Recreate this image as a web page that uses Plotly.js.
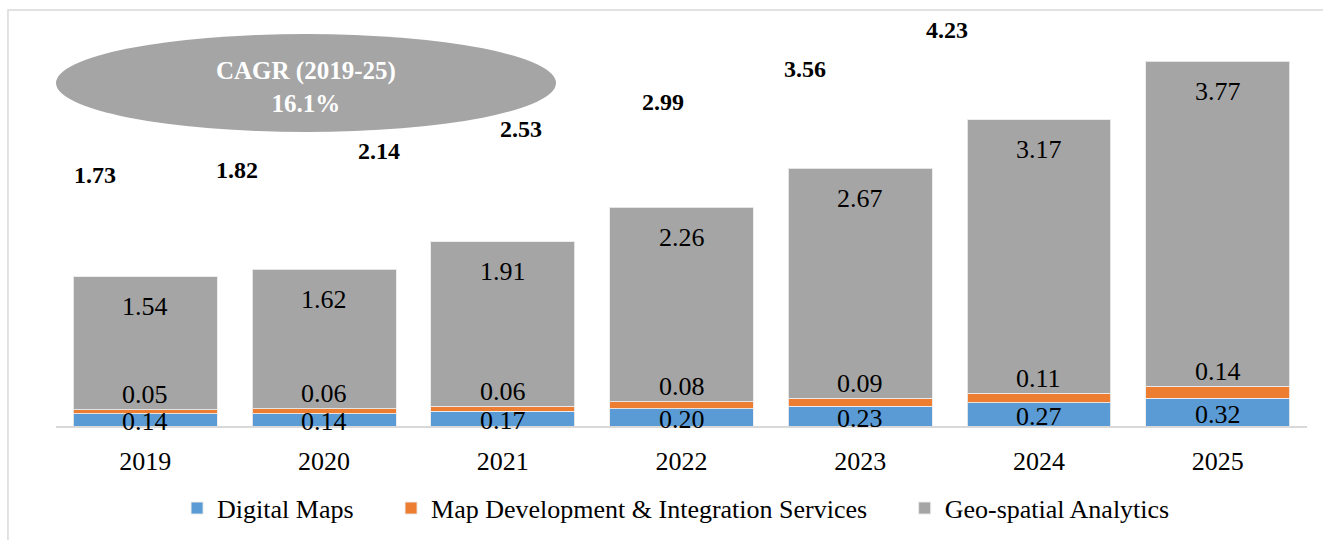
<!DOCTYPE html>
<html>
<head>
<meta charset="utf-8">
<script src="https://cdn.plot.ly/plotly-3.0.1.min.js"></script>
<style>html,body{margin:0;padding:0;background:#fff;}#chart{width:1323px;height:540px;}</style>
</head>
<body>
<div id="chart"></div>
<script>
const years = ["2019","2020","2021","2022","2023","2024","2025"];
const digitalMaps = [0.14,0.14,0.17,0.20,0.23,0.27,0.32];
const mapDevServices = [0.05,0.06,0.06,0.08,0.09,0.11,0.14];
const geoAnalytics = [1.54,1.62,1.91,2.26,2.67,3.17,3.77];
const totals = [1.73,1.82,2.14,2.53,2.99,3.56,4.23];
const seriesNames = ["Digital Maps", "Map Development & Integration Services", "Geo-spatial Analytics"];
const cagrText = "CAGR (2019-25)<br>16.1%";

const FONT = "Liberation Serif, Times New Roman, serif";
const colors = {blue:"#5b9bd5", orange:"#ed7d31", gray:"#a5a5a5"};
const outline = {color:"rgba(235,235,235,0.9)", width:1};
const pad = "\u00a0".repeat(5);

const traces = [
  {type:"bar", name:seriesNames[0] + pad, x:years, y:digitalMaps, xaxis:"x", yaxis:"y", marker:{color:colors.blue, line:outline}, hoverinfo:"none"},
  {type:"bar", name:seriesNames[1] + pad, x:years, y:mapDevServices, xaxis:"x", yaxis:"y", marker:{color:colors.orange, line:outline}, hoverinfo:"none"},
  {type:"bar", name:seriesNames[2], x:years, y:geoAnalytics, xaxis:"x", yaxis:"y", marker:{color:colors.gray, line:outline}, hoverinfo:"none"},
  {type:"scatter", mode:"text", x:years.map((_, i) => i), y:totals, xaxis:"x2", yaxis:"y2",
   text:totals.map(v => v.toFixed(2)), textposition:"middle center",
   textfont:{family:FONT, size:24, color:"#000", weight:"bold"}, showlegend:false, hoverinfo:"none", cliponaxis:false}
];

const annotations = [];
years.forEach((yr, i) => {
  const b = digitalMaps[i], o = mapDevServices[i], g = geoAnalytics[i];
  annotations.push({xref:"x", yref:"y", x:i, y:b/2, text:b.toFixed(2), showarrow:false, yshift:-2, font:{family:FONT, size:26, color:"#000"}});
  annotations.push({xref:"x", yref:"y", x:i, y:b+o, text:o.toFixed(2), showarrow:false, yshift:15, font:{family:FONT, size:26, color:"#000"}});
  annotations.push({xref:"x", yref:"y", x:i, y:b+o+g, text:g.toFixed(2), showarrow:false, yshift:-30, font:{family:FONT, size:26, color:"#000"}});
});
annotations.push({xref:"paper", yref:"paper", x:0.2, y:0.855, xanchor:"center", yanchor:"middle", text:cagrText, showarrow:false,
  font:{family:FONT, size:25, color:"#fff", weight:"bold"}, align:"center"});

const layout = {
  width:1323, height:540,
  margin:{l:56, r:16, t:30, b:114},
  paper_bgcolor:"#fff", plot_bgcolor:"rgba(0,0,0,0)",
  barmode:"stack", bargap:0.195,
  font:{family:FONT, size:26, color:"#000"},
  xaxis:{type:"category", categoryorder:"array", categoryarray:years, range:[-0.5, 6.5], anchor:"y",
         showgrid:false, showline:true, linecolor:"#d9d9d9", linewidth:2,
         ticks:"", ticklabelstandoff:11, tickfont:{family:FONT, size:26, color:"#000"}, fixedrange:true, zeroline:false},
  yaxis:{range:[0, 4.594], anchor:"x", visible:false, showgrid:false, zeroline:false, fixedrange:true},
  xaxis2:{type:"linear", overlaying:"x", anchor:"y2", range:[-0.2746, 8.535], visible:false, fixedrange:true},
  yaxis2:{type:"linear", overlaying:"y", anchor:"x2", range:[-2.554, 4.26], visible:false, fixedrange:true},
  showlegend:true,
  legend:{orientation:"h", xref:"container", yref:"container", x:0.511, xanchor:"center", y:0.059, yanchor:"middle",
          font:{family:FONT, size:26, color:"#000"}, traceorder:"normal", itemclick:false},
  shapes:[
    {type:"rect", xref:"paper", yref:"paper", x0:-0.0384, x1:1.02, y0:-0.34, y1:1.0505,
     line:{color:"#d9d9d9", width:1.5}, fillcolor:"rgba(0,0,0,0)", layer:"below"},
    {type:"circle", xref:"paper", yref:"paper", x0:0, x1:0.3997, y0:0.7424, y1:0.9899,
     fillcolor:colors.gray, line:{width:0}, layer:"below"}
  ],
  annotations:annotations
};

Plotly.newPlot("chart", traces, layout, {displayModeBar:false, staticPlot:true});
</script>
</body>
</html>
